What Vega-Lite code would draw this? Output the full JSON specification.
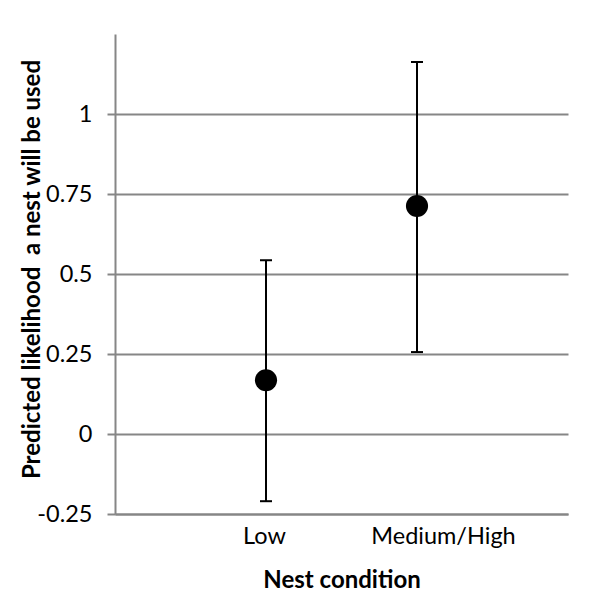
{
  "$schema": "https://vega.github.io/schema/vega-lite/v6.json",
  "width": 453,
  "height": 480,
  "autosize": {"type": "none"},
  "padding": {"left": 115, "top": 34, "right": 24, "bottom": 94},
  "background": "white",
  "config": {"view": {"stroke": null}, "font": "Lato"},
  "data": {"values": [
    {"condition": "Low", "mean": 0.168, "lo": -0.21, "hi": 0.543},
    {"condition": "Medium/High", "mean": 0.7125, "lo": 0.256, "hi": 1.1625}
  ]},
  "encoding": {
    "x": {
      "field": "condition", "type": "nominal", "sort": null,
      "scale": {"type": "point", "padding": 1},
      "axis": {
        "title": "Nest condition", "grid": false, "ticks": false, "tickSize": 0,
        "labelAngle": 0, "labelFont": "Lato", "labelFontSize": 23.5, "labelColor": "black",
        "labelPadding": 10, "labelBaseline": "top",
        "labelOffset": {"condition": {"test": "datum.value == 'Medium/High'", "value": 26}, "value": -2},
        "domainColor": "#868686", "domainWidth": 2,
        "titleFont": "Lato", "titleFontSize": 24, "titleFontWeight": "bold", "titleColor": "black",
        "titleY": 73, "titleBaseline": "alphabetic"
      }
    }
  },
  "layer": [
    {
      "mark": {"type": "rule", "color": "black", "strokeWidth": 2},
      "encoding": {
        "y": {
          "field": "lo", "type": "quantitative",
          "scale": {"domain": [-0.25, 1.25], "nice": false, "zero": false},
          "axis": {
            "title": "Predicted likelihood\u00a0 a nest will be used",
            "values": [-0.25, 0, 0.25, 0.5, 0.75, 1],
            "labelExpr": "'' + datum.value",
            "labelFont": "Lato", "labelFontSize": 23.5, "labelColor": "black", "labelPadding": 15,
            "tickSize": 8, "tickColor": "#868686", "tickWidth": 2,
            "domainColor": "#868686", "domainWidth": 2,
            "grid": true, "gridColor": "#868686", "gridWidth": 2,
            "titleFont": "Lato", "titleFontSize": 24, "titleFontWeight": "bold", "titleColor": "black",
            "titleX": -83, "titleY": 235, "titleBaseline": "middle", "titleAlign": "center"
          }
        },
        "y2": {"field": "hi"}
      }
    },
    {
      "mark": {"type": "tick", "color": "black", "thickness": 2, "size": 12, "opacity": 1},
      "encoding": {"y": {"field": "lo", "type": "quantitative"}}
    },
    {
      "mark": {"type": "tick", "color": "black", "thickness": 2, "size": 12, "opacity": 1},
      "encoding": {"y": {"field": "hi", "type": "quantitative"}}
    },
    {
      "mark": {"type": "point", "filled": true, "color": "black", "size": 490, "opacity": 1},
      "encoding": {"y": {"field": "mean", "type": "quantitative"}}
    }
  ]
}
